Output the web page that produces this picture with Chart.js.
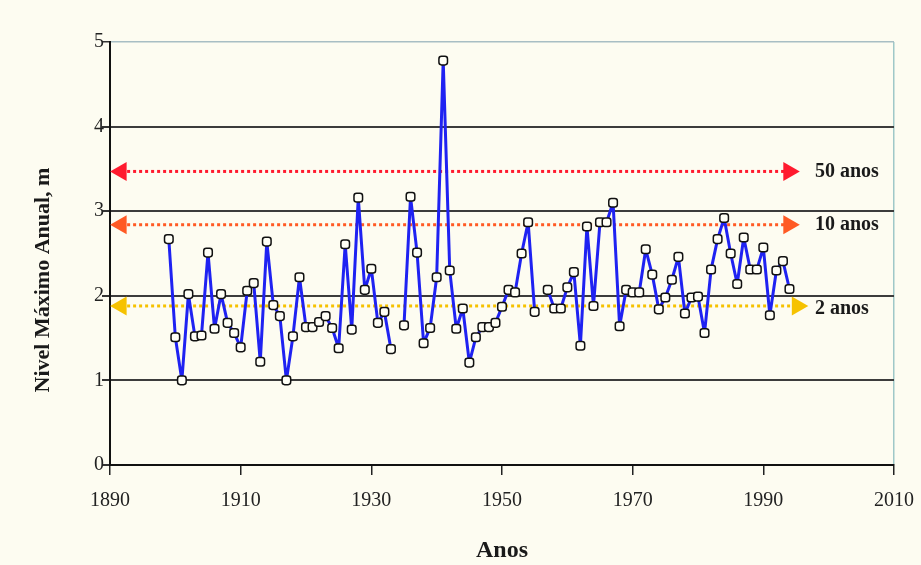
<!DOCTYPE html>
<html>
<head>
<meta charset="utf-8">
<script src="https://cdn.jsdelivr.net/npm/chart.js@4/dist/chart.umd.min.js"></script>
<style>
  html, body { margin: 0; padding: 0; background: #fdfcf1; }
  #wrap { width: 921px; height: 565px; }
</style>
</head>
<body>
<div id="wrap"><canvas id="chart" width="921" height="565"></canvas></div>
<script>
// --- 1. Data ---
const firstYear = 1899;
const levels = [
  2.67, 1.51, 1.00, 2.02, 1.52, 1.53, 2.51, 1.61, 2.02, 1.68, // 1899-1908
  1.56, 1.39, 2.06, 2.15, 1.22, 2.64, 1.89, 1.76, 1.00, 1.52, // 1909-1918
  2.22, 1.63, 1.63, 1.69, 1.76, 1.62, 1.38, 2.61, 1.60, 3.16, // 1919-1928
  2.07, 2.32, 1.68, 1.81, 1.37, null, 1.65, 3.17, 2.51, 1.44, // 1929-1938
  1.62, 2.22, 4.78, 2.30, 1.61, 1.85, 1.21, 1.51, 1.63, 1.63, // 1939-1948
  1.68, 1.87, 2.07, 2.04, 2.50, 2.87, 1.81, null, 2.07, 1.85, // 1949-1958
  1.85, 2.10, 2.28, 1.41, 2.82, 1.88, 2.87, 2.87, 3.10, 1.64, // 1959-1968
  2.07, 2.04, 2.04, 2.55, 2.25, 1.84, 1.98, 2.19, 2.46, 1.79, // 1969-1978
  1.98, 1.99, 1.56, 2.31, 2.67, 2.92, 2.50, 2.14, 2.69, 2.31, // 1979-1988
  2.31, 2.57, 1.77, 2.30, 2.41, 2.08                          // 1989-1994
];
const years = levels.map((_, i) => firstYear + i);

// return-period reference levels (arrows)
const returnLabels = ['50 anos', '10 anos', '2 anos'];
const returnLevels = [3.47, 2.84, 1.88];
const returnColors = ['#ff1a2e', '#ff5a24', '#f6c200'];
const arrowStart = 1891.7;
const arrowEnd = [1993.9, 1993.9, 1995.2];

const xTicks = [1890, 1910, 1930, 1950, 1970, 1990, 2010];
const yTicks = [0, 1, 2, 3, 4, 5];

// --- 2. Plugins ---
const bgPlugin = {
  id: 'bg',
  beforeDraw(chart) {
    const c = chart.ctx;
    c.save();
    c.fillStyle = '#fdfcf1';
    c.fillRect(0, 0, chart.width, chart.height);
    c.restore();
  }
};

const textPlugin = {
  id: 'texts',
  afterDraw(chart) {
    const c = chart.ctx;
    const y = chart.scales.y;
    c.save();
    // y axis title
    c.translate(43, 280);
    c.rotate(-Math.PI / 2);
    c.font = 'bold 22px "Liberation Serif", serif';
    c.fillStyle = '#1a1a1a';
    c.textAlign = 'center';
    c.textBaseline = 'middle';
    c.fillText('Nivel Máximo Anual, m', 0, 0);
    c.restore();

    // return period labels
    c.save();
    c.font = 'bold 20px "Liberation Serif", serif';
    c.fillStyle = '#1a1a1a';
    c.textAlign = 'left';
    c.textBaseline = 'middle';
    returnLabels.forEach((txt, i) => {
      const py = y.getPixelForValue(returnLevels[i]) + (i === 2 ? 3 : 0);
      c.fillText(txt, 815, py);
    });
    c.restore();
  }
};

// --- 3. Datasets ---
const arrowSets = returnLevels.map((lvl, i) => ({
  data: [{ x: arrowStart, y: lvl }, { x: arrowEnd[i], y: lvl }],
  borderColor: returnColors[i],
  borderWidth: 3,
  borderDash: [3, 3],
  pointStyle: 'triangle',
  pointRadius: 11,
  pointRotation: (ctx) => ctx.dataIndex === 0 ? -90 : 90,
  pointBackgroundColor: returnColors[i],
  pointBorderWidth: 0,
  clip: false,
  order: 2
}));

const seriesSet = {
  data: years.map((yr, i) => ({ x: yr, y: levels[i] })),
  borderColor: '#1f22f2',
  borderWidth: 3,
  borderJoinStyle: 'round',
  borderCapStyle: 'round',
  tension: 0,
  spanGaps: false,
  pointStyle: 'rectRounded',
  pointRadius: 5,
  pointBackgroundColor: '#fffff6',
  pointBorderColor: '#111',
  pointBorderWidth: 1.5,
  order: 1
};

// --- 4. Chart ---
new Chart(document.getElementById('chart'), {
  type: 'line',
  data: { datasets: [seriesSet, ...arrowSets] },
  plugins: [bgPlugin, textPlugin],
  options: {
    responsive: false,
    animation: false,
    events: [],
    layout: { padding: { top: 42, right: 27, left: 0, bottom: 0 } },
    plugins: { legend: { display: false }, tooltip: { enabled: false } },
    scales: {
      x: {
        type: 'linear',
        min: 1890, max: 2010,
        afterBuildTicks: (s) => { s.ticks = xTicks.map(v => ({ value: v })); },
        afterFit: (s) => { s.height = 100; s.paddingLeft = 0; s.paddingRight = 0; },
        ticks: {
          font: { family: '"Liberation Serif", serif', size: 20 },
          color: '#222',
          padding: 14,
          maxRotation: 0,
          callback: (v) => String(v)
        },
        grid: {
          color: (ctx) => ctx.tick && ctx.tick.value === 2010 ? '#9fc8c8' : 'rgba(0,0,0,0)',
          lineWidth: 1.5,
          tickColor: '#222',
          tickLength: 10,
          tickWidth: 1.5
        },
        border: { color: '#111', width: 2 },
        title: {
          display: true,
          text: 'Anos',
          font: { family: '"Liberation Serif", serif', size: 24, weight: 'bold' },
          color: '#1a1a1a',
          padding: { top: 0, bottom: 0 }
        }
      },
      y: {
        min: 0, max: 5,
        afterBuildTicks: (s) => { s.ticks = yTicks.map(v => ({ value: v })); },
        afterFit: (s) => { s.width = 110; s.paddingTop = 0; s.paddingBottom = 0; },
        ticks: {
          font: { family: '"Liberation Serif", serif', size: 20 },
          color: '#222',
          padding: -2
        },
        grid: {
          color: (ctx) => ctx.tick && ctx.tick.value === 5 ? '#a8bec4' : '#3c3c3c',
          lineWidth: (ctx) => ctx.tick && ctx.tick.value === 5 ? 1.5 : 2,
          tickColor: '#333',
          tickLength: 8
        },
        border: { color: '#111', width: 2 }
      }
    }
  }
});
</script>
</body>
</html>
